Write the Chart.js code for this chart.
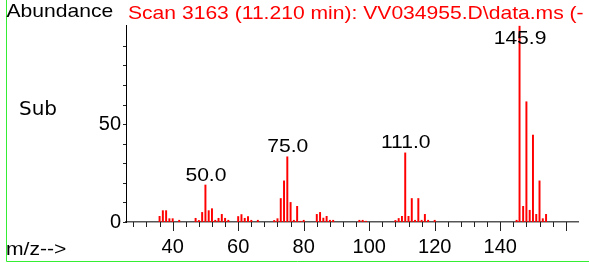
<!DOCTYPE html>
<html><head><meta charset="utf-8">
<script src="https://cdn.jsdelivr.net/npm/chart.js@4/dist/chart.umd.min.js"></script>
<style>html,body{margin:0;padding:0;background:#fff;}#wrap{width:589px;height:263px;position:relative;}</style>
</head><body><div id="wrap"><canvas id="c" width="589" height="263"></canvas></div>
<script>
// ---- data ----
const mzValues = [36,37,38,39,40,42,47,48,49,50,51,52,53,54,55,56,57,60,61,62,63,64,66,71,72,73,74,75,76,77,78,79,80,84,85,86,87,88,89,97,98,99,108,109,110,111,112,113,114,115,116,117,118,120,145,145.9,147,148,149,150,151,152,153,154];
const abundances = [2.9,5.8,5.8,1.7,1.7,0.9,1.9,0.8,4.9,18.9,5.8,6.8,0.9,1.9,3.9,1.9,0.9,2.8,3.8,1.9,2.8,0.9,0.9,0.8,1.7,12,21,33.3,10,0.9,8,0.4,0.9,3.9,4.9,2,2.9,0.9,0.9,0.9,0.9,0.4,0.8,1.8,2.9,35.3,2.9,12,0.9,12,0.9,3.9,0.9,0.9,0.9,100,8,61.4,6,44.4,3.9,21,1.7,3.9];
const peakLabels = [50.0, 75.0, 111.0, 145.9];
const xTickLabels = [40, 60, 80, 100, 120, 140];
const yTickLabels = [0, 50];
const titleText = 'Scan 3163 (11.210 min): VV034955.D\\data.ms (-';
const yAxisTitle = 'Abundance';
const xAxisTitle = 'm/z-->';
const sideText = 'Sub';

const points = mzValues.map((m, i) => ({x: m, y: abundances[i]}));

function stretchText(ctx, text, x, y, align, font, color, sx) {
  ctx.save();
  ctx.font = font;
  ctx.fillStyle = color;
  ctx.textBaseline = 'alphabetic';
  ctx.textAlign = align;
  ctx.translate(x, y);
  ctx.scale(sx, 1);
  ctx.fillText(text, 0, 0);
  ctx.restore();
}

const decor = {
  id: 'decor',
  afterDraw(chart) {
    const ctx = chart.ctx;
    const xs = chart.scales.x, ys = chart.scales.y;
    const ca = chart.chartArea;
    ctx.save();
    ctx.strokeStyle = '#222';
    ctx.lineWidth = 1;
    xs.ticks.forEach(t => {
      const px = Math.round(xs.getPixelForValue(t.value)) + 0.5;
      const len = (t.value % 20 === 0) ? 9 : 5;
      ctx.beginPath();
      ctx.moveTo(px, ca.bottom);
      ctx.lineTo(px, ca.bottom + len);
      ctx.stroke();
    });
    ys.ticks.forEach(t => {
      if (t.value > 95) return;
      const py = Math.round(ys.getPixelForValue(t.value)) + 0.5;
      ctx.beginPath();
      ctx.moveTo(ca.left - 3, py);
      ctx.lineTo(ca.left, py);
      ctx.stroke();
    });
    ctx.strokeStyle = '#33ee33';
    ctx.beginPath();
    ctx.moveTo(6.5, 0);
    ctx.lineTo(6.5, 261.5);
    ctx.lineTo(589, 261.5);
    ctx.stroke();
    ctx.restore();

    const F = '19px "Liberation Sans", Arial, sans-serif';
    const SX = 1.11;
    stretchText(ctx, yAxisTitle, 6.5, 16.7, 'left', F, '#000', SX);
    stretchText(ctx, titleText, 128, 19.3, 'left', F, '#ff0000', SX);
    stretchText(ctx, xAxisTitle, 6, 255, 'left', F, '#000', SX);
    stretchText(ctx, sideText, 19, 115, 'left', '20px "DejaVu Sans", sans-serif', '#000', 1);

    peakLabels.forEach(p => {
      let best = 0;
      mzValues.forEach((m, i) => { if (Math.abs(m - p) < Math.abs(mzValues[best] - p)) best = i; });
      const px = xs.getPixelForValue(p);
      const top = ys.getPixelForValue(abundances[best]);
      const y = Math.max(top - 4.4, ca.top + 19.3);
      stretchText(ctx, p.toFixed(1), px + 0.5, y, 'center', F, '#000', SX);
    });
  }
};

new Chart(document.getElementById('c'), {
  type: 'bar',
  data: {
    datasets: [{
      data: points,
      backgroundColor: '#ff0000',
      borderWidth: 0,
      barThickness: 1.3,
      grouped: false
    }]
  },
  options: {
    responsive: false,
    animation: false,
    devicePixelRatio: 1,
    layout: {padding: {top: 25, right: 11, left: 0, bottom: 0}},
    plugins: {legend: {display: false}, tooltip: {enabled: false}},
    scales: {
      x: {
        type: 'linear',
        offset: false,
        min: 25.75,
        max: 163.75,
        grid: {display: false, drawTicks: false, drawOnChartArea: false, offset: false},
        border: {display: true, color: '#555', width: 1.6},
        ticks: {
          stepSize: 4,
          includeBounds: false,
          autoSkip: false,
          maxRotation: 0,
          padding: 13,
          color: '#000',
          font: {family: '"Liberation Sans", Arial, sans-serif', size: 20},
          callback: v => xTickLabels.includes(v) ? String(v) : ''
        },
        afterFit: s => { s.height = 41; }
      },
      y: {
        type: 'linear',
        min: 0,
        max: 100.6,
        grid: {display: false, drawTicks: false, drawOnChartArea: false},
        border: {display: true, color: '#000', width: 1},
        ticks: {
          stepSize: 10,
          includeBounds: false,
          autoSkip: false,
          padding: 5,
          color: '#000',
          font: {family: '"Liberation Sans", Arial, sans-serif', size: 20},
          callback: v => yTickLabels.includes(v) ? String(v) : ''
        },
        afterFit: s => { s.width = 126; }
      }
    }
  },
  plugins: [decor]
});
</script></body></html>
